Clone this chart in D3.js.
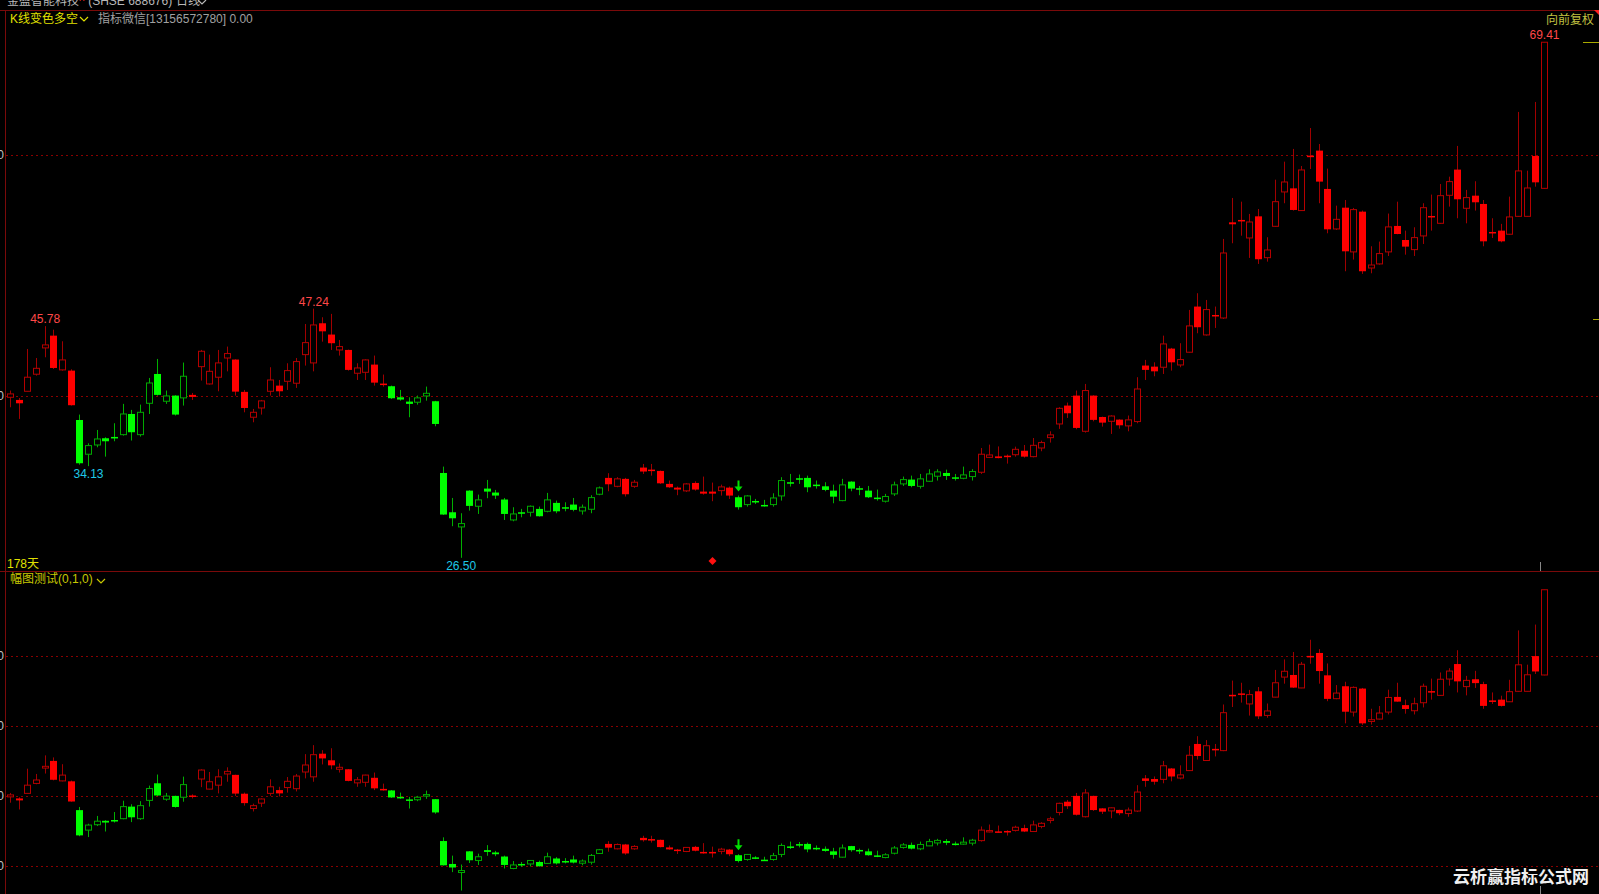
<!DOCTYPE html>
<html>
<head>
<meta charset="utf-8">
<script src="https://cdn.jsdelivr.net/npm/d3@7"></script>
<style>
    html, body { margin: 0; padding: 0; background: #000; overflow: hidden; }
    svg { display: block; }
    text { font-family: "Liberation Sans", "Noto Sans CJK SC", sans-serif; }
</style>
</head>
<body>
<svg id="chart" width="1599" height="894"></svg>
<script>
/*
 * K线数据 (178 天, 开高低收)
 */
var opens = [39.86,39.64,40.36,41.78,43.97,44.99,42.14,42.08,37.97,35.12,
    35.89,36.45,36.56,36.75,38.47,36.75,39.36,41.80,39.53,40.00,
    39.81,40.06,42.41,40.97,41.53,43.13,43.00,40.31,38.20,38.97,
    40.36,40.83,41.19,41.03,43.41,42.72,46.02,45.08,43.80,43.80,
    41.86,41.94,42.58,41.00,40.78,39.86,39.50,39.45,39.97,39.53,
    33.56,30.29,29.07,32.09,30.79,32.26,31.93,31.35,29.65,30.29,
    30.29,30.57,30.37,31.07,30.71,30.93,30.40,30.54,31.79,33.15,
    32.45,33.07,32.45,34.01,33.84,33.73,32.65,32.34,32.07,32.73,
    32.01,32.01,32.09,32.34,31.54,30.93,31.23,30.90,30.93,31.65,
    32.79,33.12,33.15,32.59,32.45,32.09,31.26,32.84,32.29,32.09,
    31.51,31.21,31.82,32.65,33.01,32.45,32.87,33.29,33.56,33.20,
    33.12,33.26,33.62,34.86,34.94,35.00,35.08,35.41,34.92,35.64,
    36.50,37.64,39.17,40.00,37.03,40.00,38.22,37.86,38.00,37.48,
    37.84,42.50,42.41,42.36,43.91,42.55,43.61,47.41,45.05,46.71,
    46.46,54.42,54.62,53.12,54.92,51.48,54.09,56.95,57.25,55.40,
    59.97,60.39,57.20,53.87,55.64,51.96,55.31,50.62,50.96,51.96,
    54.12,52.95,52.15,53.29,54.95,54.34,56.67,58.81,55.59,56.64,
    55.95,53.62,53.73,53.43,54.92,54.92,59.94,57.25];

var highs = [40.42,39.80,43.88,43.13,45.78,45.49,44.52,42.19,38.42,36.03,
    37.14,36.53,37.70,39.31,38.81,39.25,41.47,43.05,40.42,40.03,
    42.75,40.22,43.80,43.41,43.80,44.08,43.02,40.47,38.89,39.64,
    42.36,41.30,42.69,43.13,45.96,47.24,46.52,46.80,44.63,43.83,
    42.69,43.02,43.33,41.75,40.83,40.47,39.86,40.00,40.75,39.56,
    34.09,31.48,30.21,32.12,31.76,32.98,32.15,31.48,30.71,30.57,
    30.85,30.76,31.90,31.26,31.12,31.48,30.93,31.71,32.43,33.54,
    33.21,33.15,32.98,34.31,34.31,33.76,32.93,32.43,32.71,32.87,
    33.26,32.76,32.59,32.43,31.68,31.71,31.40,31.32,31.87,33.21,
    33.48,33.43,33.34,32.93,32.79,32.59,33.07,32.87,32.48,32.48,
    32.18,31.82,32.84,33.26,33.34,33.48,33.87,33.87,33.84,33.48,
    34.09,33.87,35.64,35.92,35.77,35.10,35.75,35.89,36.47,36.25,
    37.03,39.03,39.42,40.42,40.97,40.03,38.25,38.36,38.03,38.34,
    41.53,42.97,42.77,44.99,43.97,44.36,47.13,48.52,47.96,47.41,
    53.04,56.45,56.14,55.12,55.53,53.18,57.97,59.47,60.53,59.11,
    62.27,60.94,58.89,55.81,56.28,55.62,55.40,52.43,52.82,55.15,
    56.14,53.73,54.01,56.01,56.73,57.61,58.22,60.78,57.12,57.84,
    56.28,54.76,54.29,56.56,63.61,58.72,64.44,69.41];

var lows = [39.03,38.06,40.36,41.66,43.19,42.22,42.08,39.17,34.25,34.13,
    35.70,34.92,36.20,36.67,36.26,36.59,38.47,40.00,39.31,38.34,
    39.17,39.64,41.25,40.92,40.36,42.02,40.00,38.61,37.78,38.42,
    40.00,39.92,40.47,40.64,42.50,42.02,44.49,43.80,43.33,42.08,
    41.30,41.30,40.83,40.75,39.72,39.58,38.20,39.25,39.58,37.45,
    30.07,29.13,26.50,30.43,30.15,31.46,31.40,29.65,29.54,29.87,
    29.93,29.93,30.29,30.21,30.37,30.37,30.10,30.21,31.71,32.04,
    32.37,31.60,32.32,33.48,33.34,32.65,32.32,31.71,31.98,32.09,
    31.76,31.21,31.68,31.40,30.51,30.76,30.98,30.76,30.76,31.26,
    32.43,32.65,31.96,32.26,32.04,31.04,31.21,32.04,31.71,31.48,
    31.26,31.10,31.65,32.48,32.37,32.26,32.84,32.93,32.98,32.93,
    33.04,32.93,33.48,34.80,34.78,34.34,34.92,34.84,34.86,35.37,
    36.09,37.23,38.14,37.20,36.92,37.86,37.42,36.81,37.25,37.03,
    37.70,41.30,41.61,41.80,42.08,42.36,43.58,45.19,44.99,45.63,
    46.38,52.68,53.31,51.46,50.96,51.15,54.06,56.01,55.40,55.37,
    58.86,56.01,53.51,53.79,50.35,51.32,50.13,50.18,50.90,51.62,
    53.43,51.73,51.62,52.62,53.73,54.29,55.73,54.76,54.34,55.40,
    52.43,53.12,52.76,53.40,54.90,54.90,57.39,57.20];

var closes = [40.14,39.36,41.53,42.27,44.22,42.30,42.97,39.20,34.37,35.84,
    36.39,36.20,36.50,38.47,36.95,38.61,41.05,40.06,39.97,38.42,
    41.61,39.89,43.69,42.02,42.72,43.50,40.33,38.97,38.61,39.56,
    41.30,40.36,42.08,42.83,44.41,45.88,45.35,44.36,44.08,42.14,
    42.30,42.97,41.08,40.92,39.78,39.67,39.31,39.81,40.19,37.64,
    30.10,29.79,29.35,30.82,31.32,32.01,31.68,30.15,30.15,30.24,
    30.79,29.96,31.32,30.37,30.60,30.49,30.71,31.51,32.32,32.62,
    33.07,31.79,32.79,33.68,33.79,32.70,32.37,32.18,32.65,32.18,
    31.84,31.84,32.40,31.68,30.71,31.65,31.18,30.85,31.48,32.93,
    32.70,33.01,32.37,32.51,32.15,31.59,32.57,32.26,32.21,31.54,
    31.48,31.60,32.57,33.01,32.48,33.07,33.48,33.65,33.31,33.15,
    33.40,33.68,35.12,35.06,34.80,34.89,35.53,34.92,35.86,36.09,
    36.73,38.94,38.53,37.31,40.42,37.98,37.75,38.30,37.53,37.98,
    40.55,42.14,42.02,44.30,42.77,43.00,45.80,45.69,47.16,46.60,
    51.87,54.26,54.51,54.45,51.35,52.12,56.14,57.78,55.45,58.78,
    59.92,57.81,53.84,54.67,52.01,55.48,50.35,50.87,51.82,54.04,
    53.45,52.40,53.15,55.64,54.87,56.64,57.81,56.34,56.48,56.09,
    52.84,53.54,52.84,54.87,58.70,57.28,57.75,69.41];

// 多空变色: r = 多 (红), g = 空 (绿), 连续段 [颜色, 天数]
var trendRuns = [["r", 8], ["g", 13], ["r", 23], ["g", 25], ["r", 15], ["g", 28], ["r", 66]];

// 标注的高低点 (下标, h = 高点, l = 低点)
var extremes = [{i: 4, k: "h"}, {i: 9, k: "l"}, {i: 35, k: "h"}, {i: 52, k: "l"}, {i: 177, k: "h"}];

// 信号
var arrowDay = 84;     // 绿色向下箭头
var diamondDay = 81;   // 红色菱形

// 纵轴刻度
var topTicks = [40, 60];
var botTicks = [30, 40, 50, 60];

var W = 1599, H = 894;
var svg = d3.select("#chart");

var trend = [];
trendRuns.forEach(function (run) {
    for (var k = 0; k < run[1]; k++)
        trend.push(run[0]);
});

var days = d3.range(opens.length).map(function (i) {
    return {i: i, o: opens[i], h: highs[i], l: lows[i], c: closes[i], t: trend[i]};
});

var x = d3.scaleLinear().domain([0, days.length - 1]).range([10, 1544]);
var yTop = d3.scaleLinear().domain([40, 60]).range([395.6, 155.3]);
var yBot = d3.scaleLinear().domain([30, 60]).range([866, 655.7]);

var colors = {
    r: {fill: "#ff0000", hollow: "#b40000", wick: "#a00000"},
    g: {fill: "#00ff00", hollow: "#00a800", wick: "#00b000"}
};

var defs = svg.append("defs");
defs.append("clipPath").attr("id", "clipTop").append("rect")
        .attr("x", 6).attr("y", 11).attr("width", W - 6).attr("height", 560);
defs.append("clipPath").attr("id", "clipBot").append("rect")
        .attr("x", 6).attr("y", 572).attr("width", W - 6).attr("height", H - 572);

/*
 * Zeichnet Gitter, Achsenbeschriftung und Kerzen in ein Panel
 */
function drawPanel(clipId, y, ticks) {
    var g = svg.append("g").attr("clip-path", "url(#" + clipId + ")");

    g.selectAll("line.grid")
            .data(ticks)
            .enter().append("line")
            .attr("class", "grid")
            .attr("x1", 6).attr("x2", W)
            .attr("y1", function (d) { return Math.round(y(d)) + 0.5; })
            .attr("y2", function (d) { return Math.round(y(d)) + 0.5; })
            .attr("stroke", "#8a0000")
            .attr("stroke-dasharray", "2,3");

    svg.selectAll(null)
            .data(ticks)
            .enter().append("text")
            .attr("x", 4)
            .attr("y", function (d) { return y(d) + 4; })
            .attr("text-anchor", "end")
            .attr("font-size", 12)
            .attr("fill", "#c0c0c0")
            .text(function (d) { return d; });

    var candle = g.selectAll("g.k")
            .data(days)
            .enter().append("g")
            .attr("class", "k");

    candle.append("line")
            .attr("x1", function (d) { return Math.round(x(d.i)) + 0.5; })
            .attr("x2", function (d) { return Math.round(x(d.i)) + 0.5; })
            .attr("y1", function (d) { return y(d.h); })
            .attr("y2", function (d) { return y(d.l); })
            .attr("stroke", function (d) { return colors[d.t].wick; })
            .attr("stroke-width", 1);

    candle.filter(function (d) { return d.c < d.o; })
            .append("rect")
            .attr("x", function (d) { return Math.round(x(d.i)) - 3; })
            .attr("width", 7)
            .attr("y", function (d) { return y(d.o); })
            .attr("height", function (d) { return Math.max(1.5, y(d.c) - y(d.o)); })
            .attr("fill", function (d) { return colors[d.t].fill; });

    candle.filter(function (d) { return d.c >= d.o; })
            .append("rect")
            .attr("x", function (d) { return Math.round(x(d.i)) - 2.5; })
            .attr("width", 6)
            .attr("y", function (d) { return y(d.c); })
            .attr("height", function (d) { return Math.max(1, y(d.o) - y(d.c)); })
            .attr("fill", "#000")
            .attr("stroke", function (d) { return colors[d.t].hollow; })
            .attr("stroke-width", 1);

    // 绿色箭头
    var a = days[arrowDay];
    var ax = Math.round(x(a.i)) + 0.5, ay = y(a.h) - 4;
    g.append("path")
            .attr("d", "M" + (ax - 1) + "," + (ay - 11) + "h2v6h3l-4,5l-4,-5h3z")
            .attr("fill", "#00e000");
    return g;
}

var gTop = drawPanel("clipTop", yTop, topTicks);
drawPanel("clipBot", yBot, botTicks);

// 高低点数值
gTop.selectAll("text.ext")
        .data(extremes)
        .enter().append("text")
        .attr("class", "ext")
        .attr("x", function (d) { return x(d.i) + 0.5; })
        .attr("y", function (d) {
            return d.k === "h" ? yTop(highs[d.i]) - 3 : yTop(lows[d.i]) + 12;
        })
        .attr("text-anchor", "middle")
        .attr("font-size", 12)
        .attr("fill", function (d) { return d.k === "h" ? "#ff4848" : "#1ec8e6"; })
        .text(function (d) { return (d.k === "h" ? highs[d.i] : lows[d.i]).toFixed(2); });

// 红色菱形
var dx = Math.round(x(diamondDay)) + 0.5;
gTop.append("path")
        .attr("d", "M" + dx + ",557l4,4l-4,4l-4,-4z")
        .attr("fill", "#ff1010");

// 边框
svg.append("line").attr("x1", 0).attr("x2", W).attr("y1", 10.5).attr("y2", 10.5).attr("stroke", "#7a0a0a");
svg.append("line").attr("x1", 0).attr("x2", W).attr("y1", 571.5).attr("y2", 571.5).attr("stroke", "#7a0a0a");
svg.append("line").attr("x1", 5.5).attr("x2", 5.5).attr("y1", 10).attr("y2", H).attr("stroke", "#7a0a0a");
svg.append("path").attr("d", "M1594,10h5v5z").attr("fill", "#ff2020");

// 右侧小刻度
svg.append("line").attr("x1", 1583).attr("x2", W)
        .attr("y1", Math.round(yTop(closes[closes.length - 1])) + 0.5)
        .attr("y2", Math.round(yTop(closes[closes.length - 1])) + 0.5)
        .attr("stroke", "#a8a800");
svg.append("line").attr("x1", 1593).attr("x2", W).attr("y1", 319.5).attr("y2", 319.5).attr("stroke", "#a8a800");

// 光标竖线
svg.append("line").attr("x1", 1540.5).attr("x2", 1540.5).attr("y1", 562).attr("y2", 571).attr("stroke", "#888");
svg.append("line").attr("x1", 1540.5).attr("x2", 1540.5).attr("y1", 886).attr("y2", H).attr("stroke", "#888");

/*
 * 标题文字
 */
function chevron(x0, y0, color) {
    svg.append("path")
            .attr("d", "M" + x0 + "," + y0 + "l4,4l4,-4")
            .attr("fill", "none")
            .attr("stroke", color)
            .attr("stroke-width", 1.2);
}

var title = svg.append("text").attr("x", 7).attr("y", 5).attr("font-size", 12).attr("fill", "#b8b8b8");
title.append("tspan").text("金盈智能科技");
title.append("tspan").attr("fill", "#ff3030").attr("font-size", 8).attr("dy", -4).text("R");
title.append("tspan").attr("dy", 4).text(" (SHSE 688676)");
svg.append("text").attr("x", 176).attr("y", 5).attr("font-size", 12).attr("fill", "#b8b8b8").text("日线");
chevron(198, 0, "#b8b8b8");

svg.append("text").attr("x", 10).attr("y", 23).attr("font-size", 12).attr("fill", "#e0e000").text("K线变色多空");
chevron(80, 17, "#e0e000");
svg.append("text").attr("x", 98).attr("y", 23).attr("font-size", 12).attr("fill", "#a0a0a0").text("指标微信[13156572780] 0.00");

svg.append("text").attr("x", 1594).attr("y", 24).attr("text-anchor", "end").attr("font-size", 12)
        .attr("fill", "#c0c040").text("向前复权");

svg.append("text").attr("x", 7).attr("y", 568).attr("font-size", 12).attr("fill", "#e0e000").text("178天");

svg.append("text").attr("x", 10).attr("y", 583).attr("font-size", 12).attr("fill", "#c8c800").text("幅图测试(0,1,0)");
chevron(97, 579, "#c8c800");

// 水印
svg.append("text").attr("x", 1453).attr("y", 883).attr("font-size", 17).attr("font-weight", "bold")
        .attr("fill", "#f0f0f0").attr("font-family", "Noto Sans CJK SC").text("云析赢指标公式网");
</script>
</body>
</html>
